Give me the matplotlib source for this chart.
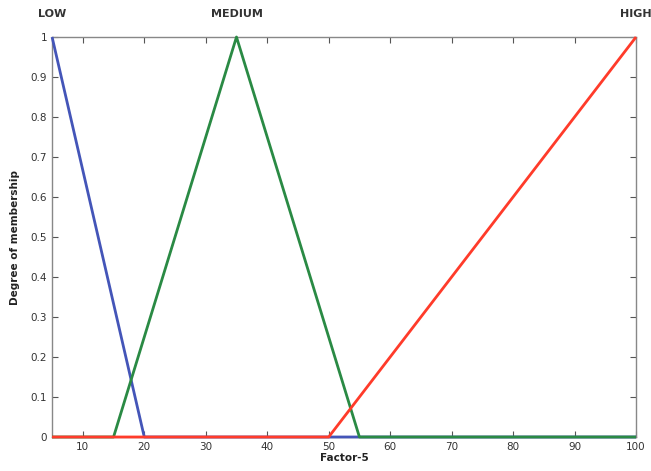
import matplotlib
matplotlib.use("Agg")
import matplotlib.pyplot as plt

# Membership functions (breakpoints)
low_x = [5, 20, 100]
low_y = [1, 0, 0]
med_x = [5, 15, 35, 55, 100]
med_y = [0, 0, 1, 0, 0]
high_x = [5, 50, 100]
high_y = [0, 0, 1]

labels = ["LOW", "MEDIUM", "HIGH"]
label_x = [5, 35, 100]

xticks = [10, 20, 30, 40, 50, 60, 70, 80, 90, 100]
yticks = [0, 0.1, 0.2, 0.3, 0.4, 0.5, 0.6, 0.7, 0.8, 0.9, 1]
ytick_labels = ["0", "0.1", "0.2", "0.3", "0.4", "0.5", "0.6", "0.7", "0.8", "0.9", "1"]

fig = plt.figure(figsize=(6.51, 4.71), dpi=100)
ax = fig.add_axes([0.080, 0.0722, 0.897, 0.8492])

lw = 2.0
ax.plot(low_x, low_y, color="#4455b8", lw=lw, solid_capstyle="butt", clip_on=False, zorder=5)
ax.plot(med_x, med_y, color="#2a8a44", lw=lw, solid_capstyle="butt", clip_on=False, zorder=6)
ax.plot(high_x, high_y, color="#ff3b2a", lw=lw, solid_capstyle="butt", clip_on=False, zorder=7)

ax.set_xlim(5, 100)
ax.set_ylim(0, 1)
ax.set_xticks(xticks)
ax.set_yticks(yticks)
ax.set_yticklabels(ytick_labels)
ax.tick_params(direction="in", top=True, right=True, length=4, width=0.8,
               labelsize=7.5, colors="#555555", labelcolor="#333333")
for s in ax.spines.values():
    s.set_color("#888888")
    s.set_linewidth(1.0)
    s.set_zorder(2)

ax.set_xlabel("Factor-5", fontsize=7.5, color="#222222", labelpad=1, fontweight="bold")
ax.set_ylabel("Degree of membership", fontsize=7.5, color="#222222", labelpad=8, fontweight="bold")

for lab, lx in zip(labels, label_x):
    ax.text(lx, 1.045, lab, ha="center", va="bottom", fontsize=8, fontweight="bold",
            color="#333333", transform=ax.transData, clip_on=False)

fig.savefig("out.png", dpi=100)
